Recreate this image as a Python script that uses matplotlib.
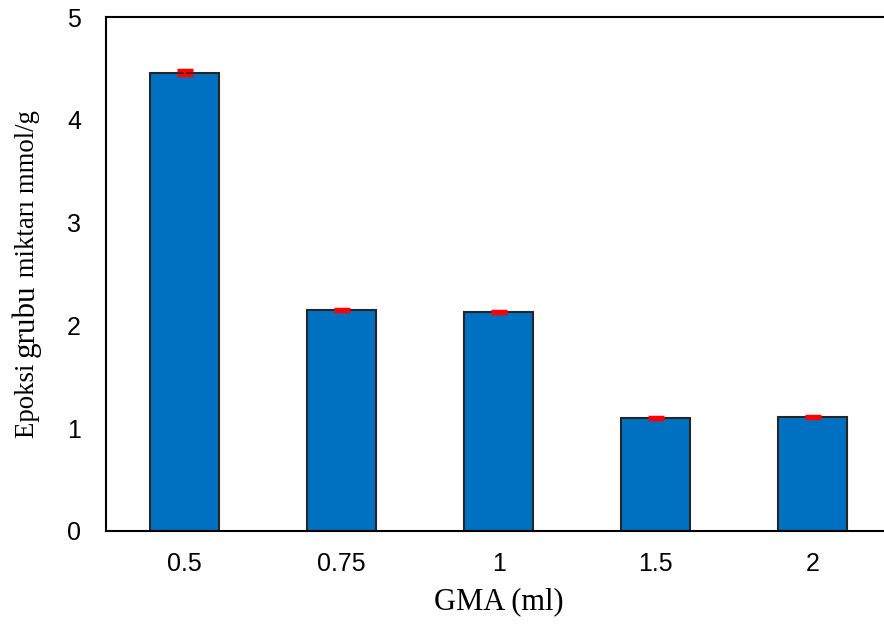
import numpy as np
import matplotlib.pyplot as plt

# GMA miktarı ve epoksi grubu değerleri
gma = ['0.5', '0.75', '1', '1.5', '2']
epoksi = [4.46, 2.15, 2.13, 1.10, 1.11]
hata = [0.02, 0.01, 0.01, 0.01, 0.01]

fig = plt.figure(figsize=(8.84, 6.26), dpi=100)
ax = fig.add_axes([0.12, 0.1518, 0.888, 0.821])

x = np.arange(len(gma))
ax.bar(x, epoksi, width=0.435, color='#0070C0', edgecolor='#262626', linewidth=1.5,
       yerr=hata, error_kw=dict(ecolor='red', elinewidth=1.5, capsize=6, capthick=2.5))

ax.set_xlim(-0.5, 4.5)
ax.set_ylim(0, 5)
ax.set_xticks(x)
ax.set_xticklabels(gma)
ax.set_yticks(range(6))
ax.tick_params(length=0, labelsize=18)
ax.tick_params(axis='x', pad=15)
ax.tick_params(axis='y', pad=18)
for lab in ax.get_xticklabels() + ax.get_yticklabels():
    lab.set_fontfamily('Liberation Sans')
for s in ['left', 'bottom', 'top']:
    ax.spines[s].set_linewidth(1.5)
ax.spines['right'].set_visible(False)

ax.set_xlabel('GMA (ml)', fontfamily='Liberation Serif', fontsize=22, labelpad=8)

# y ekseni etiketi: farklı boyutlarda parçalar
parcalar = [('Epoksi\u00a0', 19.3), ('grubu', 22.3), ('\u00a0miktarı mmol/g', 19.3)]
fig.canvas.draw()
r = fig.canvas.get_renderer()
y = 438
for s, fs in parcalar:
    olc = fig.text(0, 0, s, fontsize=fs, fontfamily='Liberation Serif')
    w = olc.get_window_extent(r).width
    olc.remove()
    fig.text(34 / 884, 1 - y / 626, s, fontsize=fs, fontfamily='Liberation Serif',
             rotation=90, ha='left', va='baseline', rotation_mode='anchor')
    y -= w

fig.savefig('out.png', dpi=100)
